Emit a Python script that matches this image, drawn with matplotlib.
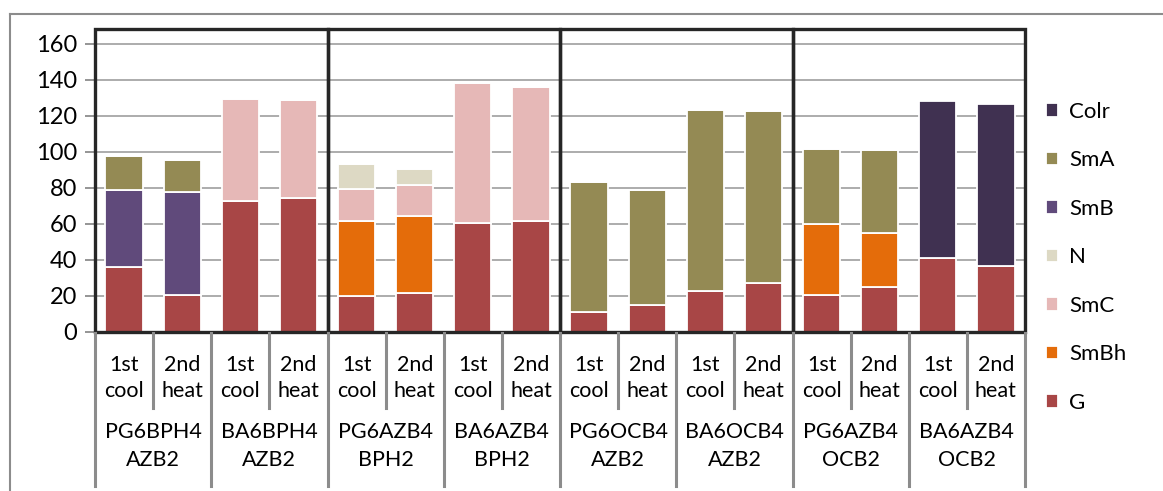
import matplotlib.pyplot as plt
import matplotlib.transforms as mtransforms
from matplotlib.patches import Rectangle
from matplotlib.lines import Line2D
import numpy as np

plt.rcParams['font.family'] = ['Lato', 'DejaVu Sans']

# data (stacked temperature ranges per phase)
compounds = ["PG6BPH4\nAZB2", "BA6BPH4\nAZB2", "PG6AZB4\nBPH2", "BA6AZB4\nBPH2",
             "PG6OCB4\nAZB2", "BA6OCB4\nAZB2", "PG6AZB4\nOCB2", "BA6AZB4\nOCB2"]
runs = ["1st\ncool", "2nd\nheat"]

phases = ["G", "SmBh", "SmC", "N", "SmB", "SmA", "Colr"]
G = [36, 20.5, 72.7, 74.7, 19.8, 21.9, 60.8, 61.4, 11.3, 15, 22.8, 27.1, 20.6, 24.8, 41.3, 36.9]
SmBh = [0, 0, 0, 0, 42.1, 42.8, 0, 0, 0, 0, 0, 0, 39.3, 30.1, 0, 0]
SmC = [0, 0, 56.9, 54.2, 17.8, 17.2, 77.5, 74.7, 0, 0, 0, 0, 0, 0, 0, 0]
N = [0, 0, 0, 0, 13.5, 8.5, 0, 0, 0, 0, 0, 0, 0, 0, 0, 0]
SmB = [43, 57.2, 0, 0, 0, 0, 0, 0, 0, 0, 0, 0, 0, 0, 0, 0]
SmA = [18.5, 17.8, 0, 0, 0, 0, 0, 0, 71.9, 64, 100.6, 95.4, 41.9, 46.4, 0, 0]
Colr = [0, 0, 0, 0, 0, 0, 0, 0, 0, 0, 0, 0, 0, 0, 87, 89.9]

series = [G, SmBh, SmC, N, SmB, SmA, Colr]
colors = ["#A84646", "#E46C0A", "#E6B8B7", "#DDD9C4", "#604A7B", "#948A54", "#403151"]

W, H = 1163, 491
fig = plt.figure(figsize=(W / 100, H / 100), dpi=100)
ax = fig.add_axes([95 / W, (H - 332) / H, 930 / W, 303 / H])

x = np.arange(len(G))
bottom = np.zeros(len(G))
for name, vals, c in zip(phases, series, colors):
    vals = np.array(vals, dtype=float)
    ax.bar(x, vals, width=0.64, bottom=bottom, color=c, edgecolor="white",
           linewidth=1.3, label=name, zorder=3)
    bottom += vals

ax.set_xlim(-0.5, len(G) - 0.5)
ax.set_ylim(0, 168.3)
ax.set_yticks(range(0, 161, 20))
ax.tick_params(axis="y", labelsize=17, length=7, width=1.3, color="#8C8C8C", pad=6)
ax.tick_params(axis="x", length=0, labelbottom=False)
for s in ax.spines.values():
    s.set_visible(False)
for yv in range(0, 161, 20):
    ax.axhline(yv, color="#A6A6A6", lw=1.3, zorder=1)

# bold group boxes
for g in range(4):
    ax.add_patch(Rectangle((g * 4 - 0.5, 0), 4, 168.3, fill=False, edgecolor="#262626",
                           lw=2.4, zorder=5, clip_on=False))

# two-level category labels
trans = mtransforms.blended_transform_factory(ax.transData, fig.transFigure)
def fy(py):
    return (H - py) / H

for i in range(len(G) + 1):
    xs = i - 0.5
    long_line = (i % 2 == 0)
    y_end = 486 if long_line else 408
    fig.add_artist(Line2D([xs, xs], [fy(333), fy(y_end)], transform=trans,
                          color="#8C8C8C", lw=2.2))
for i in range(len(G)):
    ax.text(i, fy(378), runs[i % 2], transform=trans, ha="center", va="center",
            fontsize=15.5, linespacing=1.35)
for k, c in enumerate(compounds):
    ax.text(2 * k + 0.5, fy(446), c, transform=trans, ha="center", va="center",
            fontsize=15.5, linespacing=1.45)

# outer frame
fig.add_artist(Line2D([10 / W, 10 / W], [fy(14), 0], transform=fig.transFigure,
                      color="#8C8C8C", lw=1.5))
fig.add_artist(Line2D([10 / W, 1], [fy(14), fy(14)], transform=fig.transFigure,
                      color="#8C8C8C", lw=1.5))

handles, labels = ax.get_legend_handles_labels()
leg = fig.legend(handles[::-1], labels[::-1], loc="upper left",
                 bbox_to_anchor=(1026 / W, fy(82)), frameon=False, fontsize=16,
                 handlelength=0.55, handleheight=0.55, handletextpad=0.5,
                 labelspacing=1.28)

fig.savefig("out.png", dpi=100)
